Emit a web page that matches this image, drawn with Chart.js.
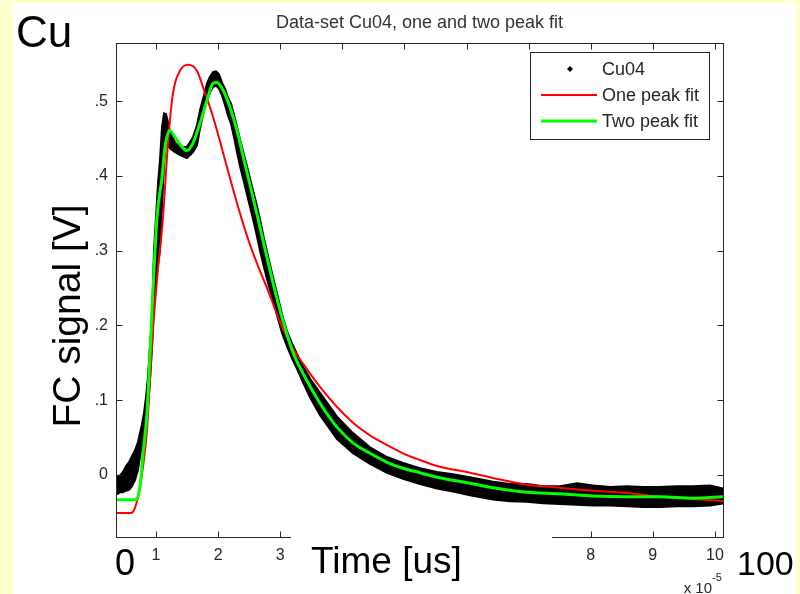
<!DOCTYPE html>
<html>
<head>
<meta charset="utf-8">
<title>Data-set Cu04, one and two peak fit</title>
<script src="https://cdn.jsdelivr.net/npm/chart.js@4.4.1/dist/chart.umd.min.js"></script>
<style>
  html, body { margin: 0; padding: 0; background: #ffffcc; }
  #wrap { position: relative; width: 800px; height: 594px; }
  canvas { display: block; }
</style>
</head>
<body>
<div id="wrap"><canvas id="fit-chart" width="800" height="594"></canvas></div>
<script>
// time axis is in units of 1e-5 s (MATLAB "x 10^-5" multiplier)
// Cu04 measurement: noisy trace, kept as upper / lower edge of the band
var cu04X = [0.356, 0.388, 0.420, 0.469, 0.517, 0.565, 0.614, 0.662, 0.710, 0.742,
  0.775, 0.807, 0.839, 0.871, 0.903, 0.936, 0.968, 1.000, 1.032, 1.064,
  1.097, 1.129, 1.161, 1.193, 1.225, 1.306, 1.386, 1.499, 1.596, 1.660,
  1.709, 1.773, 1.821, 1.870, 1.918, 1.966, 2.014, 2.063, 2.111, 2.159,
  2.208, 2.256, 2.304, 2.353, 2.417, 2.481, 2.546, 2.611, 2.675, 2.739,
  2.804, 2.868, 2.948, 3.029, 3.110, 3.190, 3.271, 3.367, 3.480, 3.641,
  3.915, 4.172, 4.446, 4.720, 4.977, 5.251, 5.525, 5.783, 6.056, 6.427,
  6.700, 6.974, 7.232, 7.506, 7.780, 8.037, 8.311, 8.585, 8.843, 9.116,
  9.390, 9.647, 9.921, 10.13];
var cu04Hi = [-0.005, -0.001, -0.001, 0.004, 0.012, 0.017, 0.025, 0.033, 0.044, 0.056,
  0.068, 0.083, 0.104, 0.131, 0.171, 0.210, 0.301, 0.345, 0.390, 0.421,
  0.465, 0.484, 0.483, 0.472, 0.459, 0.445, 0.439, 0.439, 0.452, 0.468,
  0.488, 0.508, 0.524, 0.533, 0.539, 0.540, 0.536, 0.525, 0.517, 0.505,
  0.497, 0.482, 0.466, 0.449, 0.428, 0.408, 0.386, 0.365, 0.342, 0.316,
  0.293, 0.270, 0.243, 0.215, 0.192, 0.176, 0.162, 0.145, 0.129, 0.110,
  0.078, 0.056, 0.037, 0.024, 0.016, 0.009, 0.004, 0.001, -0.003, -0.009,
  -0.012, -0.012, -0.015, -0.015, -0.011, -0.014, -0.016, -0.015, -0.016, -0.016,
  -0.015, -0.015, -0.014, -0.018];
var cu04Lo = [-0.025, -0.025, -0.023, -0.023, -0.021, -0.020, -0.015, -0.007, 0.007, 0.024,
  0.039, 0.055, 0.074, 0.091, 0.127, 0.171, 0.234, 0.261, 0.281, 0.301,
  0.361, 0.414, 0.448, 0.441, 0.437, 0.432, 0.428, 0.424, 0.432, 0.441,
  0.464, 0.488, 0.501, 0.512, 0.519, 0.521, 0.517, 0.508, 0.495, 0.481,
  0.470, 0.452, 0.432, 0.413, 0.392, 0.370, 0.348, 0.325, 0.300, 0.278,
  0.257, 0.238, 0.214, 0.190, 0.172, 0.156, 0.142, 0.124, 0.104, 0.080,
  0.048, 0.029, 0.015, 0.003, -0.005, -0.012, -0.018, -0.022, -0.027, -0.033,
  -0.035, -0.036, -0.038, -0.039, -0.040, -0.041, -0.041, -0.042, -0.043, -0.043,
  -0.042, -0.042, -0.041, -0.038];

// one peak fit
var oneX = [0.356, 0.597, 0.662, 0.742, 0.791, 0.855, 0.903, 0.952, 1.016, 1.113,
  1.193, 1.274, 1.386, 1.515, 1.660, 1.757, 1.870, 1.982, 2.143, 2.304,
  2.465, 2.626, 2.788, 2.997, 3.158, 3.367, 3.641, 3.915, 4.172, 4.446,
  4.720, 4.977, 5.251, 5.525, 6.056, 6.427, 6.974, 7.506, 8.037, 8.585,
  9.116, 9.647, 10.13];
var oneY = [-0.051, -0.051, -0.044, -0.016, 0.011, 0.060, 0.127, 0.194, 0.261, 0.345,
  0.444, 0.511, 0.541, 0.549, 0.541, 0.519, 0.492, 0.461, 0.412, 0.364,
  0.320, 0.283, 0.250, 0.205, 0.176, 0.149, 0.118, 0.091, 0.070, 0.053,
  0.040, 0.029, 0.020, 0.012, 0.003, -0.004, -0.013, -0.017, -0.021, -0.024,
  -0.029, -0.032, -0.035];

// two peak fit
var twoX = [0.356, 0.678, 0.742, 0.791, 0.855, 0.903, 0.952, 1.016, 1.097, 1.145,
  1.225, 1.306, 1.419, 1.499, 1.596, 1.709, 1.821, 1.918, 1.982, 2.079,
  2.192, 2.304, 2.401, 2.514, 2.626, 2.723, 2.836, 2.948, 3.045, 3.207,
  3.367, 3.641, 3.915, 4.172, 4.446, 4.720, 4.977, 5.251, 5.525, 6.056,
  6.427, 6.974, 7.506, 8.037, 8.585, 9.116, 9.647, 10.13];
var twoY = [-0.033, -0.033, -0.016, 0.029, 0.083, 0.163, 0.247, 0.345, 0.398, 0.439,
  0.461, 0.452, 0.439, 0.434, 0.444, 0.471, 0.501, 0.524, 0.525, 0.515,
  0.492, 0.461, 0.427, 0.388, 0.349, 0.314, 0.274, 0.236, 0.206, 0.164,
  0.136, 0.096, 0.064, 0.043, 0.029, 0.017, 0.009, 0.003, -0.003, -0.011,
  -0.017, -0.023, -0.025, -0.028, -0.029, -0.029, -0.031, -0.029];

var xTicks = [1, 2, 3, 4, 5, 6, 7, 8, 9, 10];
var xTickLabels = ['1', '2', '3', '4', '5', '6', '7', '8', '9', '10'];
var yTicks = [0, 0.1, 0.2, 0.3, 0.4, 0.5];
var yTickLabels = ['0', '.1', '.2', '.3', '.4', '.5'];

var FONT = "'Liberation Sans', Arial, Helvetica, sans-serif";

function pts(xs, ys) {
  return xs.map(function (x, i) { return {x: x, y: ys[i]}; });
}

function labelFor(values, labels) {
  return function (v) {
    for (var i = 0; i < values.length; i++) {
      if (Math.abs(values[i] - v) < 1e-9) return labels[i];
    }
    return '';
  };
}

var decor = {
  id: 'decor',
  beforeDraw: function (chart) {
    var c = chart.ctx;
    c.save();
    c.fillStyle = '#ffffcc';
    c.fillRect(0, 0, chart.width, chart.height);
    c.fillStyle = '#ffffff';
    c.fillRect(13, 3, 783, 591);
    c.restore();
  },
  afterDraw: function (chart) {
    var c = chart.ctx, a = chart.chartArea;
    var xs = chart.scales.x, ys = chart.scales.y;
    var L = Math.round(a.left) + 0.5, R = Math.round(a.right) + 0.5;
    var T = Math.round(a.top) + 0.5, B = Math.round(a.bottom) + 0.5;
    c.save();

    // axes box with inward ticks, MATLAB style
    c.strokeStyle = '#262626';
    c.lineWidth = 1;
    c.strokeRect(L, T, R - L, B - T);
    c.beginPath();
    xTicks.forEach(function (v) {
      var p = Math.round(xs.getPixelForValue(v)) + 0.5;
      c.moveTo(p, B); c.lineTo(p, B - 6);
      c.moveTo(p, T); c.lineTo(p, T + 6);
    });
    yTicks.forEach(function (v) {
      var p = Math.round(ys.getPixelForValue(v)) + 0.5;
      c.moveTo(L, p); c.lineTo(L + 6, p);
      c.moveTo(R, p); c.lineTo(R - 6, p);
    });
    c.stroke();

    // exponent of the time axis
    c.fillStyle = '#262626';
    c.textBaseline = 'alphabetic';
    c.textAlign = 'right';
    c.font = '15px ' + FONT;
    c.fillText('x 10', 712, 593);
    c.textAlign = 'left';
    c.font = '11px ' + FONT;
    c.fillText('-5', 712, 581);

    // pasted label box over the middle of the time axis
    c.fillStyle = '#ffffff';
    c.fillRect(291, 526, 261, 68);

    c.fillStyle = '#000000';
    c.textAlign = 'left';
    c.font = '36px ' + FONT;
    c.fillText('0', 115, 575);
    c.font = '37px ' + FONT;
    c.fillText('Time [us]', 311, 573);
    c.font = '34px ' + FONT;
    c.fillText('100', 737, 575);
    c.font = '44px ' + FONT;
    c.fillText('Cu', 16, 47);

    c.save();
    c.translate(80, 316);
    c.rotate(-Math.PI / 2);
    c.textAlign = 'center';
    c.font = '39px ' + FONT;
    c.fillText('FC signal [V]', 0, 0);
    c.restore();

    // title
    c.fillStyle = '#333333';
    c.textAlign = 'center';
    c.font = '18px ' + FONT;
    c.fillText('Data-set Cu04, one and two peak fit', (a.left + a.right) / 2, 28);

    // legend
    c.fillStyle = '#ffffff';
    c.fillRect(530, 52, 179, 87);
    c.strokeStyle = '#262626';
    c.lineWidth = 1;
    c.strokeRect(530.5, 52.5, 179, 87);
    var ds = chart.data.datasets;
    var rows = [
      {label: ds[0].label, y: 69},
      {label: ds[2].label, y: 95, color: ds[2].borderColor, w: 2},
      {label: ds[3].label, y: 121, color: ds[3].borderColor, w: 3}
    ];
    rows.forEach(function (r) {
      if (r.color) {
        c.strokeStyle = r.color;
        c.lineWidth = r.w;
        c.beginPath();
        c.moveTo(541, r.y); c.lineTo(597, r.y);
        c.stroke();
      } else {
        c.fillStyle = '#000000';
        c.beginPath();
        c.moveTo(570, r.y - 3); c.lineTo(573, r.y); c.lineTo(570, r.y + 3); c.lineTo(567, r.y);
        c.closePath();
        c.fill();
      }
      c.fillStyle = '#262626';
      c.textAlign = 'left';
      c.textBaseline = 'middle';
      c.font = '18px ' + FONT;
      c.fillText(r.label, 602, r.y + 1);
    });
    c.restore();
  }
};

var ctx = document.getElementById('fit-chart').getContext('2d');
var chart = new Chart(ctx, {
  type: 'line',
  data: {
    datasets: [{
      label: 'Cu04',
      data: pts(cu04X, cu04Hi),
      borderColor: '#000000',
      backgroundColor: '#000000',
      borderWidth: 2,
      pointRadius: 0,
      tension: 0,
      fill: '+1',
      order: 2
    }, {
      label: 'Cu04 lower edge',
      data: pts(cu04X, cu04Lo),
      borderColor: '#000000',
      borderWidth: 2,
      pointRadius: 0,
      tension: 0,
      fill: false,
      order: 3
    }, {
      label: 'One peak fit',
      data: pts(oneX, oneY),
      borderColor: '#ff0000',
      borderWidth: 2,
      pointRadius: 0,
      cubicInterpolationMode: 'monotone',
      fill: false,
      order: 1
    }, {
      label: 'Two peak fit',
      data: pts(twoX, twoY),
      borderColor: '#00ff00',
      borderWidth: 3,
      pointRadius: 0,
      cubicInterpolationMode: 'monotone',
      fill: false,
      order: 0
    }]
  },
  options: {
    responsive: false,
    animation: false,
    devicePixelRatio: 1,
    layout: {padding: {top: 43, right: 77, left: 0, bottom: 0}},
    plugins: {
      legend: {display: false},
      tooltip: {enabled: false},
      title: {display: false}
    },
    scales: {
      x: {
        type: 'linear',
        min: 0.356,
        max: 10.13,
        afterBuildTicks: function (s) { s.ticks = xTicks.map(function (v) { return {value: v}; }); },
        afterFit: function (s) { s.height = 57; },
        grid: {display: false, drawTicks: false},
        border: {display: false},
        ticks: {
          padding: 9,
          autoSkip: false,
          maxRotation: 0,
          color: '#262626',
          font: {family: FONT, size: 16},
          callback: labelFor(xTicks, xTickLabels)
        }
      },
      y: {
        type: 'linear',
        min: -0.083,
        max: 0.578,
        afterBuildTicks: function (s) { s.ticks = yTicks.map(function (v) { return {value: v}; }); },
        afterFit: function (s) { s.width = 116; },
        grid: {display: false, drawTicks: false},
        border: {display: false},
        ticks: {
          padding: 8,
          color: '#262626',
          font: {family: FONT, size: 16},
          callback: labelFor(yTicks, yTickLabels)
        }
      }
    }
  },
  plugins: [decor]
});
</script>
</body>
</html>
